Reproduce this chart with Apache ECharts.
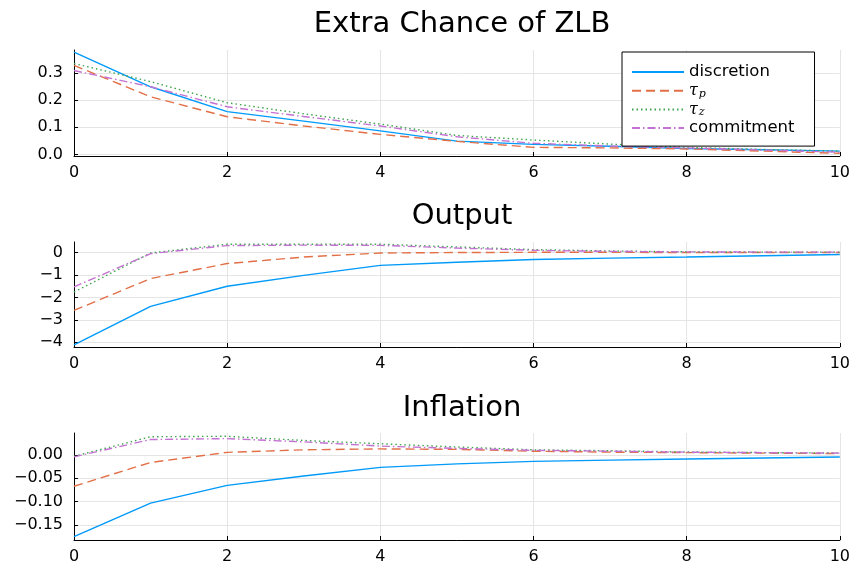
<!DOCTYPE html>
<html><head><meta charset="utf-8">
<script src="https://cdn.jsdelivr.net/npm/echarts@6/dist/echarts.min.js"></script>
<style>html,body{margin:0;padding:0;background:#fff}#c{width:853px;height:567px}</style>
</head><body><div id="c"></div>
<script>
const t = [0,1,2,3,4,5,6,7,8,9,10];
const seriesNames = ['discretion','τp','τz','commitment'];
const titles = ['Extra Chance of ZLB','Output','Inflation'];
const xTicks = [0,2,4,6,8,10];
const yTicks1 = [0,0.1,0.2,0.3];
const yTicks2 = [-4,-3,-2,-1,0];
const yTicks3 = [-0.15,-0.10,-0.05,0];

const disc1 = [0.378,0.25,0.158,0.123,0.087,0.049,0.037,0.030,0.022,0.017,0.012];
const taup1 = [0.329,0.213,0.139,0.105,0.074,0.048,0.026,0.024,0.020,0.012,0.004];
const tauz1 = [0.336,0.269,0.191,0.150,0.112,0.070,0.053,0.038,0.026,0.018,0.012];
const comm1 = [0.310,0.250,0.176,0.140,0.105,0.065,0.041,0.031,0.024,0.016,0.008];

const disc2 = [-4.11,-2.40,-1.50,-1.02,-0.57,-0.43,-0.31,-0.25,-0.20,-0.14,-0.09];
const taup2 = [-2.58,-1.16,-0.49,-0.20,-0.02,0.00,0.01,0.01,0.00,0.00,0.00];
const tauz2 = [-1.76,-0.02,0.37,0.37,0.37,0.25,0.13,0.07,0.03,0.02,0.02];
const comm2 = [-1.53,-0.05,0.31,0.33,0.32,0.20,0.10,0.05,0.03,0.02,0.02];

const disc3 = [-0.175,-0.103,-0.065,-0.045,-0.0265,-0.019,-0.0137,-0.011,-0.0086,-0.0065,-0.0043];
const taup3 = [-0.067,-0.016,0.0056,0.011,0.013,0.012,0.008,0.006,0.005,0.004,0.003];
const tauz3 = [-0.003,0.039,0.040,0.031,0.024,0.017,0.011,0.009,0.0064,0.005,0.004];
const comm3 = [-0.004,0.033,0.035,0.028,0.019,0.014,0.010,0.008,0.006,0.005,0.004];

const colors = ['#009AFA','#E36F47','#3EA44E','#C371D2'];
const dashes = ['solid',[9,5],[1.5,3],[8,3,1.5,3]];
const panels = [[disc1,taup1,tauz1,comm1],[disc2,taup2,tauz2,comm2],[disc3,taup3,tauz3,comm3]];
const yRanges = [[-0.006,0.386],[-4.21,0.47],[-0.182,0.047]];
const yTickSets = [yTicks1,yTicks2,yTicks3];
const yFmt = [v=>v.toFixed(1), v=>String(Math.round(v)).replace('-','\u2212'), v=>v.toFixed(2).replace('-','\u2212')];
const gridTops = [50,242,433];
const gridHeights = [106,105,107];
const titleTops = [5,197,389];

const FONT = 'DejaVu Sans';
const grids = [], xAxes = [], yAxes = [], series = [], titleArr = [];
for (let p=0;p<3;p++){
  grids.push({left:74,right:13,top:gridTops[p],height:gridHeights[p]});
  titleArr.push({text:titles[p],left:457,top:titleTops[p],textAlign:'center',
    textStyle:{fontFamily:FONT,fontSize:29,fontWeight:'normal',color:'#000'}});
  xAxes.push({type:'value',gridIndex:p,min:0,max:10,interval:2,
    axisLine:{show:true,onZero:false,lineStyle:{color:'#000',width:1}},
    axisTick:{show:true,inside:true,length:4,lineStyle:{color:'#000'}},
    axisLabel:{fontFamily:FONT,fontSize:16,color:'#000',margin:9,showMinLabel:true,showMaxLabel:true},
    splitLine:{show:true,lineStyle:{color:'#e5e5e5',width:1}}});
  yAxes.push({type:'value',gridIndex:p,min:yRanges[p][0],max:yRanges[p][1],
    axisLine:{show:true,onZero:false,lineStyle:{color:'#000',width:1}},
    axisTick:{show:true,inside:true,length:4,lineStyle:{color:'#000'},customValues:yTickSets[p]},
    axisLabel:{fontFamily:FONT,fontSize:16,color:'#000',margin:11,customValues:yTickSets[p],formatter:yFmt[p]},
    splitLine:{show:true,lineStyle:{color:'#e5e5e5',width:1}}});
  for (let s=0;s<4;s++){
    series.push({type:'line',name:seriesNames[s],xAxisIndex:p,yAxisIndex:p,
      data:t.map((x,i)=>[x,panels[p][s][i]]),symbol:'none',showSymbol:false,animation:false,
      lineStyle:{color:colors[s],width:1.4,type:dashes[s]},itemStyle:{color:colors[s]}});
  }
}
const chart = echarts.init(document.getElementById('c'),null,{renderer:'canvas'});
chart.setOption({
  animation:false,
  backgroundColor:'#fff',
  title:titleArr,
  grid:grids, xAxis:xAxes, yAxis:yAxes, series:series,
  legend:{data:seriesNames,orient:'vertical',left:622,top:52,
    padding:[11,20,9,9],itemGap:0.7,itemWidth:52,itemHeight:14,
    itemStyle:{opacity:0},
    borderColor:'#000',borderWidth:1,backgroundColor:'#fff',
    textStyle:{fontFamily:FONT,fontSize:16.5,lineHeight:18,color:'#000',
      rich:{g:{fontFamily:'DejaVu Serif',fontStyle:'italic',fontSize:16,lineHeight:18,color:'#000'},
            sub:{fontFamily:'DejaVu Serif',fontStyle:'italic',fontSize:11,lineHeight:12,color:'#000',padding:[6,0,0,1]}}},
    formatter:function(n){ if(n==='τp') return '{g|τ}{sub|p}'; if(n==='τz') return '{g|τ}{sub|z}'; return n; }
  }
});
</script></body></html>
